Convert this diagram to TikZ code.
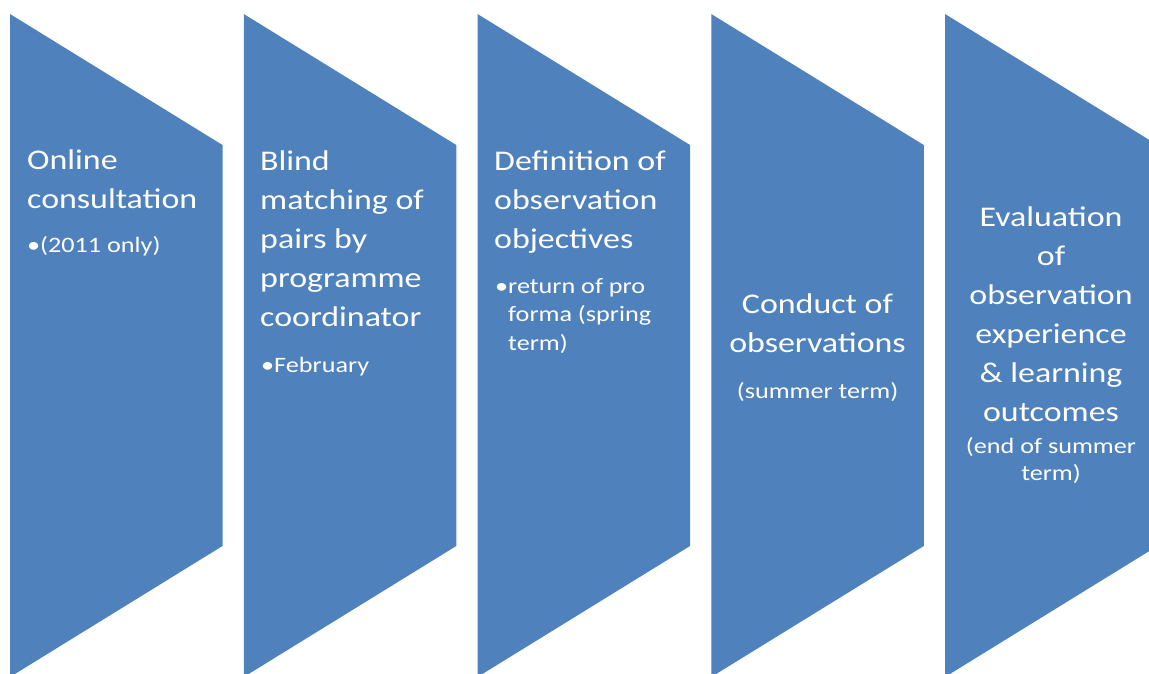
\documentclass[tikz,border=0pt]{standalone}
\usepackage{fontspec}
\setmainfont{Carlito}[FakeStretch=1.19]
\definecolor{stepblue}{HTML}{4F81BD}
\tikzset{
  chev/.style={fill=stepblue},
  ttl/.style={text=white, inner sep=0pt, font=\fontsize{28.5}{39}\selectfont},
  sub/.style={text=white, inner sep=0pt, font=\fontsize{22}{28.5}\selectfont},
}
\begin{document}
\begin{tikzpicture}[x=1pt,y=-1pt]
\useasboundingbox (0,0) rectangle (1149,673);
\clip (0,0) rectangle (1149,673);
\foreach \L in {10,243.75,477.5,711.25,945}{
  \fill[chev] (\L,14) -- (\L+212.5,145) -- (\L+212.5,546) -- (\L,677) -- cycle;
}
% shape 1
\node[ttl, anchor=base west, align=left] (t1) at (27,208) {Online\\consultation};
\node[sub, anchor=base west, align=left] (s1) at (27,252) {•(2011 only)};
% shape 2
\node[ttl, anchor=base west, align=left] (t2) at (260,326) {Blind\\matching of\\pairs by\\programme\\coordinator};
\node[sub, anchor=base west, align=left] (s2) at (261,372) {•February};
% shape 3
\node[ttl, anchor=base west, align=left] (t3) at (494,248) {Definition of\\observation\\objectives};
\node[sub, anchor=base west, align=left] (s3) at (495,350) {•return of pro\\\phantom{•}forma (spring\\\phantom{•}term)};
% shape 4
\node[ttl, anchor=base, align=center] (t4) at (817.5,352) {Conduct of\\observations};
\node[sub, anchor=base, align=center] (s4) at (817.5,398) {(summer term)};
% shape 5
\node[ttl, anchor=base, align=center] (t5) at (1051,421) {Evaluation\\of\\observation\\experience\\\& learning\\outcomes};
\node[sub, anchor=base, align=center, font=\fontsize{22}{27}\selectfont] (s5) at (1051,480) {(end of summer\\term)};
\end{tikzpicture}
\end{document}
